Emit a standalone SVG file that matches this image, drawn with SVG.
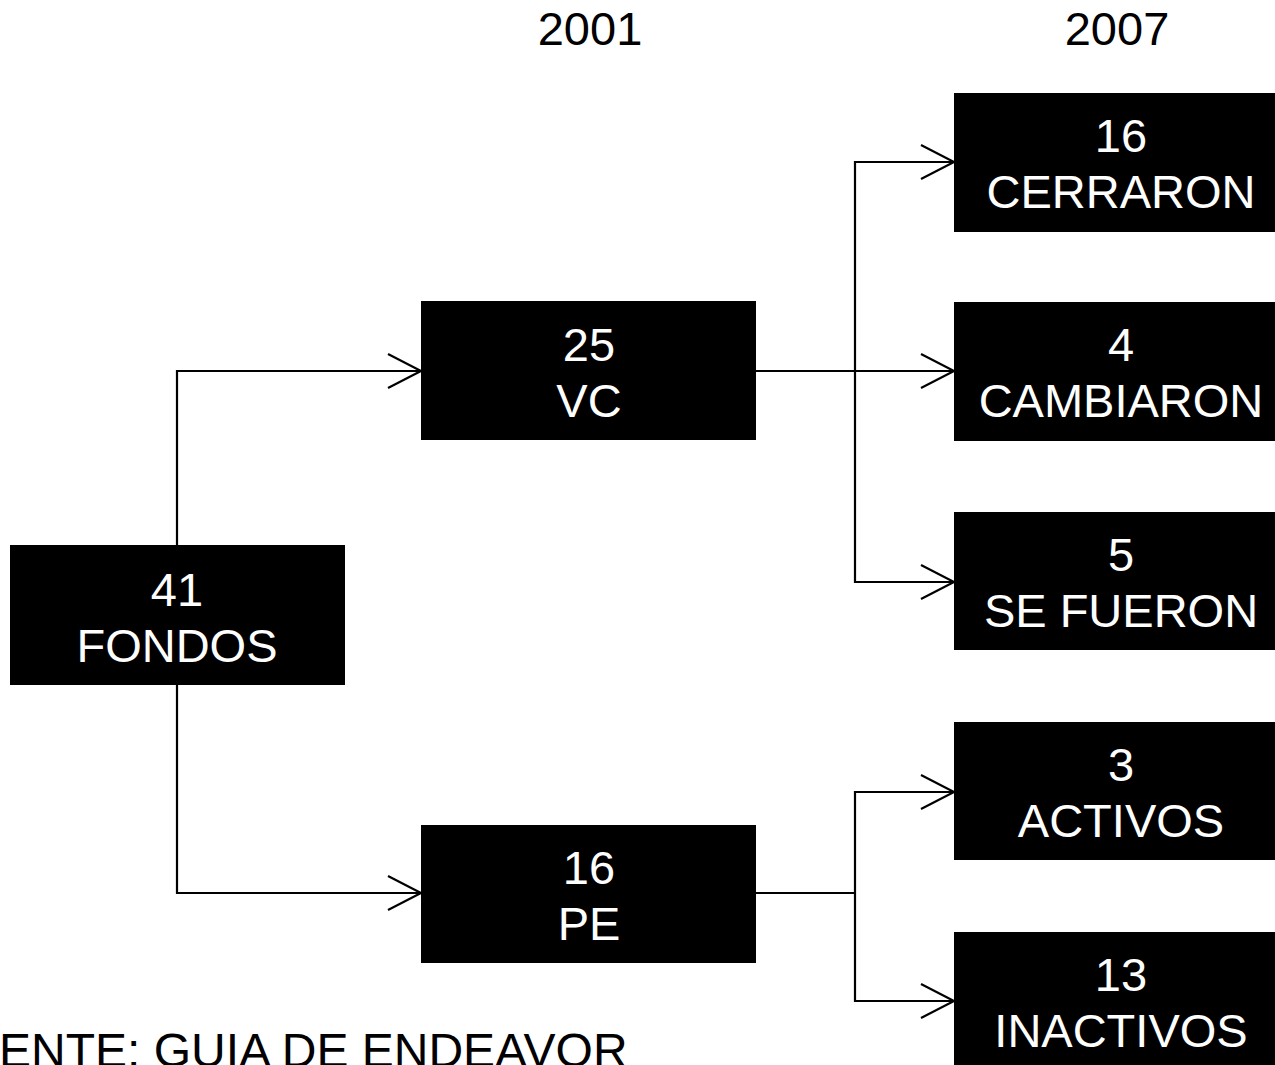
<svg xmlns="http://www.w3.org/2000/svg" width="1275" height="1065" viewBox="0 0 1275 1065">
<style>
.box{fill:#000}
.t{font-family:"Liberation Sans",Arial,sans-serif;font-size:47px;text-anchor:middle;fill:#fff}
.h{font-family:"Liberation Sans",Arial,sans-serif;font-size:47px;fill:#000}
.c{fill:none;stroke:#000;stroke-width:2.2}
</style>
<defs>
<marker id="arr" markerUnits="userSpaceOnUse" viewBox="-36 -20 40 40" refX="0" refY="0" markerWidth="40" markerHeight="40" orient="auto" overflow="visible">
<path d="M-33,-17 L0,0 L-33,17" fill="none" stroke="#000" stroke-width="2.2"/>
</marker>
</defs>
<rect width="1275" height="1065" fill="#fff"/>
<text class="h" x="590" y="45" text-anchor="middle">2001</text>
<text class="h" x="1117" y="45" text-anchor="middle">2007</text>
<text class="h" x="-65" y="1067" style="font-size:48px">FUENTE: GUIA DE ENDEAVOR</text>
<g id="connectors">
<path class="c" d="M177,545 V371 H421" marker-end="url(#arr)"/>
<path class="c" d="M177,685 V893 H421" marker-end="url(#arr)"/>
<path class="c" d="M756,371 H954" marker-end="url(#arr)"/>
<path class="c" d="M855,371 V162 H954" marker-end="url(#arr)"/>
<path class="c" d="M855,371 V582 H954" marker-end="url(#arr)"/>
<path class="c" d="M756,893 H855"/>
<path class="c" d="M855,893 V792 H954" marker-end="url(#arr)"/>
<path class="c" d="M855,893 V1001 H954" marker-end="url(#arr)"/>
</g>
<g id="fondos"><rect class="box" x="10" y="545" width="335" height="140"/><text class="t" x="177" y="606">41</text><text class="t" x="177" y="662">FONDOS</text></g>
<g id="vc"><rect class="box" x="421" y="301" width="335" height="139"/><text class="t" x="589" y="361">25</text><text class="t" x="589" y="417">VC</text></g>
<g id="pe"><rect class="box" x="421" y="825" width="335" height="138"/><text class="t" x="589" y="884">16</text><text class="t" x="589" y="940">PE</text></g>
<g id="cerraron"><rect class="box" x="954" y="93" width="321" height="139"/><text class="t" x="1121" y="152">16</text><text class="t" x="1121" y="208">CERRARON</text></g>
<g id="cambiaron"><rect class="box" x="954" y="302" width="321" height="139"/><text class="t" x="1121" y="361">4</text><text class="t" x="1121" y="417">CAMBIARON</text></g>
<g id="sefueron"><rect class="box" x="954" y="512" width="321" height="138"/><text class="t" x="1121" y="571">5</text><text class="t" x="1121" y="627">SE FUERON</text></g>
<g id="activos"><rect class="box" x="954" y="722" width="321" height="138"/><text class="t" x="1121" y="781">3</text><text class="t" x="1121" y="837">ACTIVOS</text></g>
<g id="inactivos"><rect class="box" x="954" y="932" width="321" height="133"/><text class="t" x="1121" y="991">13</text><text class="t" x="1121" y="1047">INACTIVOS</text></g>
</svg>
